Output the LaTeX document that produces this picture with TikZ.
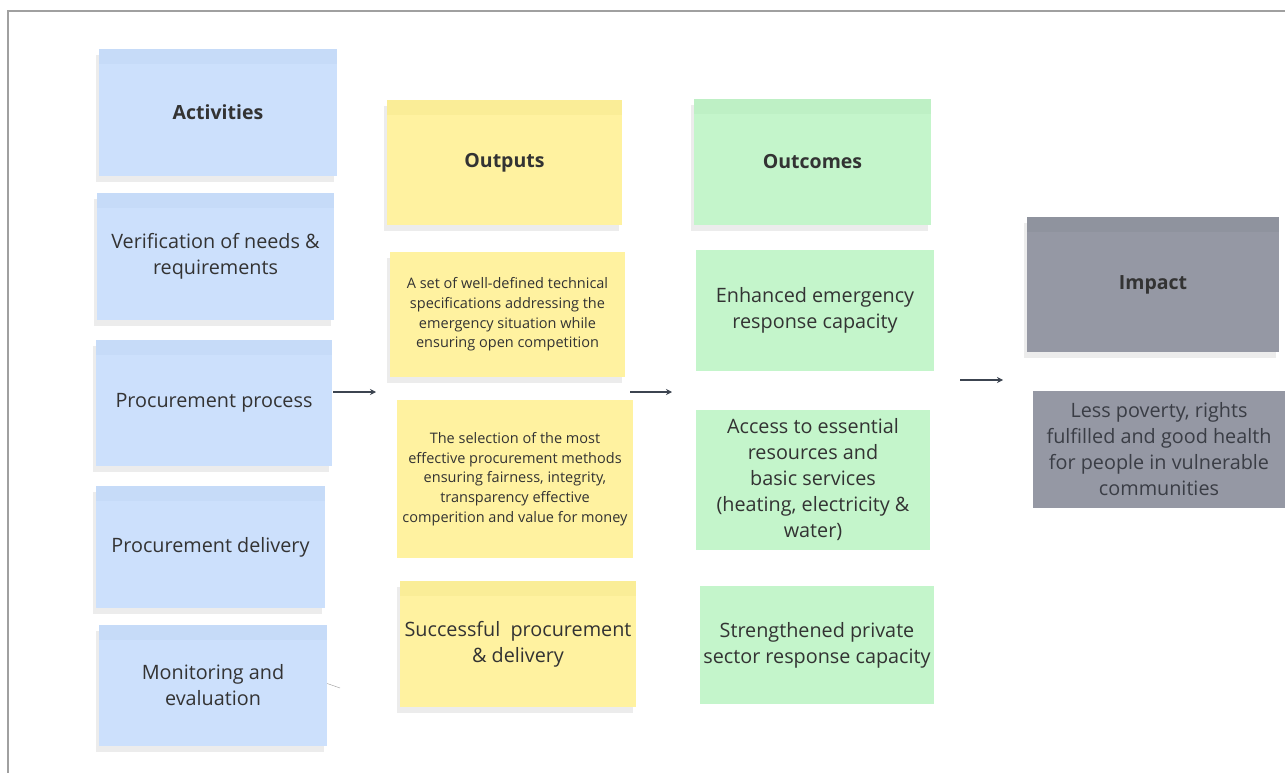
\documentclass[tikz,border=0pt]{standalone}
\usepackage{fontspec}
\setmainfont{Open Sans}
\usetikzlibrary{shadows,arrows.meta}
\definecolor{bluef}{HTML}{CCE0FC}
\definecolor{blues}{HTML}{C6DBF8}
\definecolor{yelf}{HTML}{FFF2A0}
\definecolor{yels}{HTML}{FAED97}
\definecolor{grnf}{HTML}{C4F5CB}
\definecolor{grns}{HTML}{BEF0C5}
\definecolor{grayf}{HTML}{9598A4}
\definecolor{grays}{HTML}{8F939E}
\definecolor{txt}{HTML}{333333}
\definecolor{txtg}{HTML}{3A3D45}
\definecolor{arrowc}{HTML}{3C4450}
\definecolor{framec}{HTML}{A0A0A0}
\tikzset{
  note/.style={rectangle, inner sep=0pt, align=center, text=txt,
    font=\fontsize{19.8}{26}\selectfont},
  small/.style={font=\fontsize{14.5}{19.7}\selectfont},
  head/.style={font=\bfseries\fontsize{19.5}{26}\selectfont},
  shad/.style={drop shadow={opacity=0.15, shadow xshift=-3pt, shadow yshift=-6pt}},
  strip/.style={path picture={\fill[#1] (path picture bounding box.north west) rectangle ([yshift=-15pt]path picture bounding box.north east);}},
  sz/.style 2 args={minimum width=#1pt, minimum height=#2pt},
  flow/.style={draw=arrowc, line width=2.4pt, -{Stealth[length=6pt,width=6pt]}},
}
\begin{document}
\begin{tikzpicture}[x=1pt,y=-1pt]
\useasboundingbox (0,0) rectangle (1285,773);
\draw[framec, line width=1.6pt] (8,773) -- (8,11) -- (1285,11);

% Activities column
\node[note, head, fill=bluef, strip=blues, shad, sz={238}{127}] (act) at (218,112.5) {Activities};
\node[note, fill=bluef, strip=blues, shad, sz={237}{127}] (ver) at (215.5,256.5) {Verification of needs \&\\requirements};
\node[note, fill=bluef, strip=blues, shad, sz={236}{126}] (pp) at (214,403) {Procurement process};
\node[note, fill=bluef, strip=blues, shad, sz={229}{122}] (pd) at (210.5,547) {Procurement delivery};
\node[note, fill=bluef, strip=blues, shad, sz={228}{121}] (me) at (213,685.5) {Monitoring and\\evaluation};

% Outputs column
\node[note, head, fill=yelf, strip=yels, shad, sz={235}{125}] (out) at (504.5,162.5) {Outputs};
\node[note, small, fill=yelf, shad, sz={235}{125}] (set) at (507.5,314.5) {A set of well-defined technical\\specifications addressing the\\emergency situation while\\ensuring open competition};
\node[note, small, fill=yelf, sz={236}{158}] (sel) at (515,479) {The selection of the most\\effective procurement methods\\ensuring fairness, integrity,\\transparency effective\\comperition and value for money};
\node[note, fill=yelf, strip=yels, shad, sz={236}{126}] (suc) at (518,644) {Successful\ \ procurement\\\& delivery};

% Outcomes column
\node[note, head, fill=grnf, strip=grns, shad, sz={237}{126}] (outc) at (812.5,162) {Outcomes};
\node[note, fill=grnf, sz={238}{121}] (enh) at (815,310.5) {Enhanced emergency\\response capacity};
\node[note, fill=grnf, sz={234}{140}] (acc) at (813,480) {Access to essential\\resources and\\basic services\\(heating, electricity \&\\water)};
\node[note, fill=grnf, sz={234}{118}] (str) at (817,645) {Strengthened private\\sector response capacity};

% Impact column
\node[note, head, fill=grayf, strip=grays, shad, sz={252}{135}] (imp) at (1153,284.5) {Impact};
\node[note, fill=grayf, text=txtg, sz={252}{117}] (less) at (1159,449.5) {Less poverty, rights\\fulfilled and good health\\for people in vulnerable\\communities};

% Connectors
\coordinate (a1s) at (333,392);
\coordinate (a1e) at (376,392);
\coordinate (a2s) at (630,392);
\coordinate (a2e) at (672,392);
\coordinate (a3s) at (960,380);
\coordinate (a3e) at (1003,380);
\draw[flow] (a1s) -- (a1e);
\draw[flow] (a2s) -- (a2e);
\draw[flow] (a3s) -- (a3e);
\coordinate (stray) at (340,688);
\draw[gray!70, line width=0.5pt] ([yshift=2pt]me.east) -- (stray);
\end{tikzpicture}
\end{document}
